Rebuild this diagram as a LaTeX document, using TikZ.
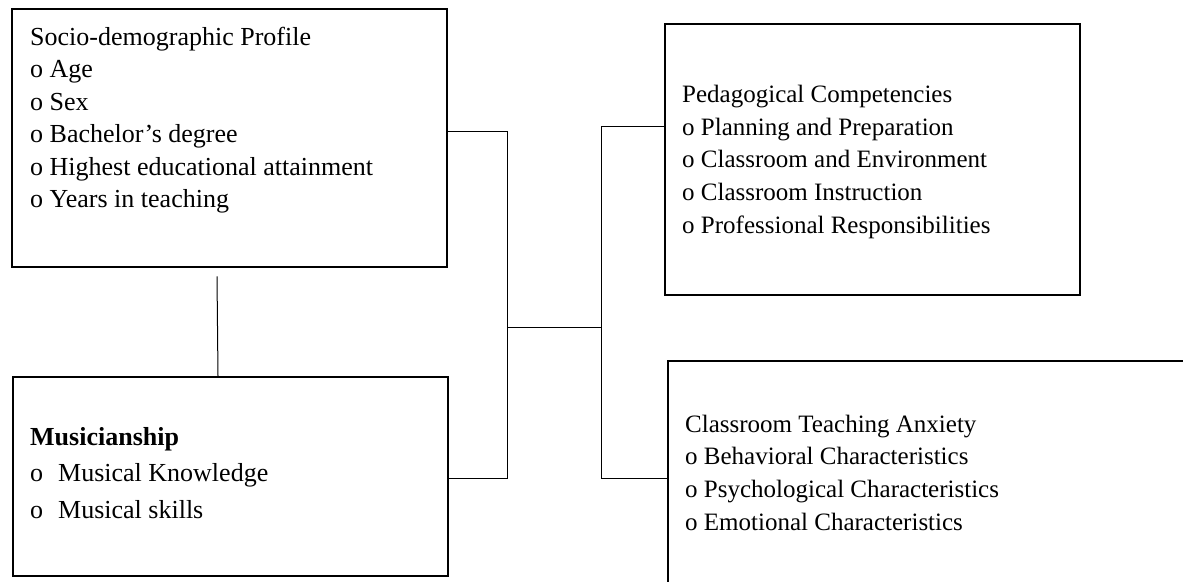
\documentclass[tikz,border=0pt]{standalone}
\usepackage{fontspec}
\setmainfont{Liberation Serif}
\begin{document}
\begin{tikzpicture}[x=1pt,y=-1pt,
  box/.style={draw=black, line width=2.4pt, rectangle, inner sep=0pt, anchor=north west},
  link/.style={draw=black, line width=1pt},
  txt/.style={anchor=base west, inner sep=0pt, align=left, font=\fontsize{26}{32.5}\selectfont},
  rtxt/.style={txt, font=\fontsize{25}{32.6}\selectfont}]
\useasboundingbox (0,0) rectangle (1183,581);
\clip (0,0) rectangle (1183,581);
% boxes
\node[box, minimum width=435pt, minimum height=258pt] (socio) at (11,8) {};
\node[box, minimum width=435pt, minimum height=199pt] (music) at (12,376) {};
\node[box, minimum width=415pt, minimum height=271pt] (peda) at (664,23) {};
\node[box, minimum width=560pt, minimum height=260pt] (anx) at (667,360) {};
% texts (anchored at the baseline of their last line)
\node[txt] (sociotxt) at (30,207.5) {Socio-demographic Profile\\o Age\\o Sex\\o Bachelor’s degree\\o Highest educational attainment\\o Years in teaching};
\node[txt, font=\fontsize{26}{36.5}\selectfont] (musictxt) at (30,518) {\textbf{Musicianship}\\\makebox[28pt][l]{o}Musical Knowledge\\\makebox[28pt][l]{o}Musical skills};
\node[rtxt] (pedatxt) at (682,233) {Pedagogical Competencies\\o Planning and Preparation\\o Classroom and Environment\\o Classroom Instruction\\o Professional Responsibilities};
\node[rtxt] (anxtxt) at (685,530) {Classroom Teaching Anxiety\\o Behavioral Characteristics\\o Psychological Characteristics\\o Emotional Characteristics};
% connectors
\coordinate (jl) at (507,327);
\coordinate (jr) at (601,327);
\draw[link] ([shift={(206,8)}]socio.south west) -- ([shift={(206,0)}]music.north west);
\draw[link] ([shift={(0,123)}]socio.north east) -| (jl);
\draw[link] ([shift={(0,102)}]music.north east) -| (jl);
\draw[link] (jl) -- (jr);
\draw[link] ([shift={(0,103)}]peda.north west) -| (jr);
\draw[link] ([shift={(0,118)}]anx.north west) -| (jr);
\end{tikzpicture}
\end{document}
